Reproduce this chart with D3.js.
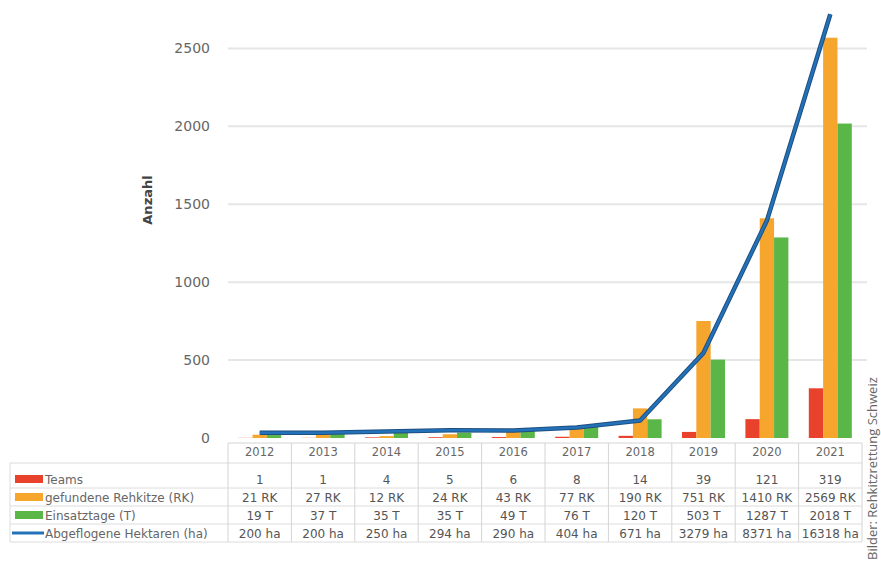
<!DOCTYPE html>
<html>
<head>
<meta charset="utf-8">
<script src="https://cdn.jsdelivr.net/npm/d3@7.9.0/dist/d3.min.js"></script>
<style>
  body { margin: 0; background: #fff; }
  svg { display: block; font-family: "DejaVu Sans", sans-serif; }
</style>
</head>
<body>
<svg width="881" height="561"></svg>
<script>
const years = ['2012', '2013', '2014', '2015', '2016', '2017', '2018', '2019', '2020', '2021'];
const teams = [1, 1, 4, 5, 6, 8, 14, 39, 121, 319];
const rehkitze = [21, 27, 12, 24, 43, 77, 190, 751, 1410, 2569];
const einsatztage = [19, 37, 35, 35, 49, 76, 120, 503, 1287, 2018];
const hektaren = [200, 200, 250, 294, 290, 404, 671, 3279, 8371, 16318];
const yTicks = [0, 500, 1000, 1500, 2000, 2500];

const series = [
  { name: 'Teams', values: teams, suffix: '', color: '#e8412c' },
  { name: 'gefundene Rehkitze (RK)', values: rehkitze, suffix: ' RK', color: '#f6a52d' },
  { name: 'Einsatztage (T)', values: einsatztage, suffix: ' T', color: '#5bb648' }
];
const lineSeries = { name: 'Abgeflogene Hektaren (ha)', values: hektaren, suffix: ' ha', color: '#2372b9' };

const svg = d3.select('svg');
const plotLeft = 228, plotRight = 862;

const x = d3.scaleBand().domain(years).range([plotLeft, plotRight]);
const xSub = d3.scaleBand().domain(series.map((s) => s.name)).range([-21.5, 21.5]);
const y = d3.scaleLinear().domain([0, 2750]).range([438, 9.5]);
// hectares drawn against a hidden secondary scale (1 unit = 6 ha)
const yHa = d3.scaleLinear().domain([0, 2750 * 6]).range([438, 9.5]);

// grid lines
svg.append('g')
  .selectAll('line')
  .data(yTicks.filter((d) => d > 0))
  .join('line')
  .attr('x1', plotLeft).attr('x2', 867)
  .attr('y1', (d) => y(d)).attr('y2', (d) => y(d))
  .attr('stroke', '#e6e6e6')
  .attr('stroke-width', 2);

// y axis labels
svg.append('g')
  .selectAll('text')
  .data(yTicks)
  .join('text')
  .attr('x', 210)
  .attr('y', (d) => y(d) + 5)
  .attr('text-anchor', 'end')
  .attr('font-size', 14)
  .attr('fill', '#666')
  .text((d) => d);

svg.append('text')
  .attr('transform', 'translate(152,200) rotate(-90)')
  .attr('text-anchor', 'middle')
  .attr('font-size', 13)
  .attr('font-weight', 'bold')
  .attr('fill', '#444')
  .text('Anzahl');

// bars
series.forEach((s) => {
  svg.append('g')
    .selectAll('rect')
    .data(s.values)
    .join('rect')
    .attr('x', (d, i) => x(years[i]) + x.bandwidth() / 2 + xSub(s.name))
    .attr('y', (d) => y(d))
    .attr('width', xSub.bandwidth())
    .attr('height', (d) => y(0) - y(d))
    .attr('fill', s.color);
});

// line
const line = d3.line()
  .x((d, i) => x(years[i]) + x.bandwidth() / 2)
  .y((d) => yHa(d));

svg.append('path')
  .datum(hektaren)
  .attr('d', line)
  .attr('fill', 'none')
  .attr('stroke', '#1d4f80')
  .attr('stroke-width', 4.5)
  .attr('stroke-linejoin', 'round');
svg.append('path')
  .datum(hektaren)
  .attr('d', line)
  .attr('fill', 'none')
  .attr('stroke', lineSeries.color)
  .attr('stroke-width', 2.5)
  .attr('stroke-linejoin', 'round');

// data table
const table = svg.append('g');
const headerTop = 443, headerBottom = 463;
const rowCenters = [479, 497, 515, 533];
const rowLines = [headerBottom, 488, 506, 524, 542];

table.selectAll('line.h')
  .data([headerTop])
  .join('line')
  .attr('x1', plotLeft).attr('x2', plotRight)
  .attr('y1', (d) => d).attr('y2', (d) => d)
  .attr('stroke', '#d4d4d4');

table.selectAll('line.r')
  .data(rowLines)
  .join('line')
  .attr('x1', 10).attr('x2', plotRight)
  .attr('y1', (d) => d).attr('y2', (d) => d)
  .attr('stroke', '#dcdcdc');

table.selectAll('line.v')
  .data(years.concat(['end']))
  .join('line')
  .attr('x1', (d, i) => plotLeft + i * x.bandwidth())
  .attr('x2', (d, i) => plotLeft + i * x.bandwidth())
  .attr('y1', headerTop).attr('y2', 542)
  .attr('stroke', '#d4d4d4');

table.append('line')
  .attr('x1', 10).attr('x2', 10)
  .attr('y1', headerBottom).attr('y2', 542)
  .attr('stroke', '#dcdcdc');

table.selectAll('text.year')
  .data(years)
  .join('text')
  .attr('x', (d) => x(d) + x.bandwidth() / 2)
  .attr('y', 456)
  .attr('text-anchor', 'middle')
  .attr('font-size', 11.5)
  .attr('fill', '#666')
  .text((d) => d);

const allRows = series.concat([lineSeries]);
allRows.forEach((s, r) => {
  table.append('g')
    .selectAll('text')
    .data(s.values)
    .join('text')
    .attr('x', (d, i) => x(years[i]) + x.bandwidth() / 2)
    .attr('y', rowCenters[r] + 4.5)
    .attr('text-anchor', 'middle')
    .attr('font-size', 12)
    .attr('fill', '#555')
    .text((d) => d + s.suffix);

  if (r < 3) {
    table.append('rect')
      .attr('x', 15).attr('y', rowCenters[r] - 4)
      .attr('width', 28).attr('height', 8)
      .attr('fill', s.color);
  } else {
    table.append('line')
      .attr('x1', 12).attr('x2', 44)
      .attr('y1', rowCenters[r]).attr('y2', rowCenters[r])
      .attr('stroke', s.color)
      .attr('stroke-width', 3);
  }

  table.append('text')
    .attr('x', 45)
    .attr('y', rowCenters[r] + 4.5)
    .attr('font-size', 12)
    .attr('fill', '#666')
    .text(s.name);
});

svg.append('text')
  .attr('transform', 'translate(877,560) rotate(-90)')
  .attr('font-family', '"Open Sans", sans-serif')
  .attr('font-size', 13)
  .attr('fill', '#666')
  .text('Bilder: Rehkitzrettung Schweiz');
</script>
</body>
</html>
